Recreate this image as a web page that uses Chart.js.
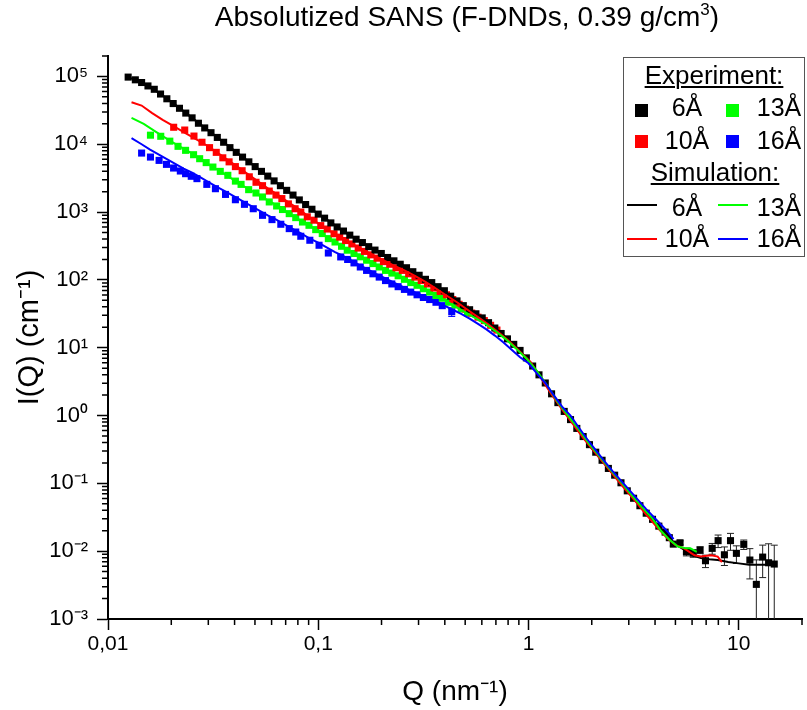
<!DOCTYPE html>
<html>
<head>
<meta charset="utf-8">
<script src="https://cdn.jsdelivr.net/npm/chart.js@4.4.0/dist/chart.umd.min.js"></script>
<style>
  html, body { margin: 0; padding: 0; background: #fff; }
  #wrap { position: relative; width: 807px; height: 710px; font-family: "Liberation Sans", Arial, sans-serif; color: #000; }
  #title { position: absolute; left: 167px; top: 3px; width: 600px; text-align: center; font-size: 28px; line-height: 28px; white-space: nowrap; }
  #title sup { font-size: 17px; line-height: 0; vertical-align: 11px; }
  #legendBox { position: absolute; left: 623px; top: 57px; width: 182px; height: 200px; box-sizing: border-box; border: 1px solid #555; }
  .lg { position: absolute; width: 120px; text-align: center; font-size: 25px; line-height: 25px; white-space: nowrap; }
  .hd { width: 180px; font-size: 26px; text-decoration: underline; text-decoration-thickness: 2px; text-underline-offset: 2px; }
  .sq { position: absolute; width: 13px; height: 13px; }
  .ln { position: absolute; width: 30px; height: 2px; }
</style>
</head>
<body>
<div id="wrap">
  <canvas id="canvas" width="807" height="710"></canvas>
  <div id="title">Absolutized SANS (F-DNDs, 0.39 g/cm<sup>3</sup>)</div>
  <div id="legendBox"></div>
  <div class="lg hd" style="left:624px; top:63px;">Experiment:</div>
  <div class="sq" style="left:635px; top:104px; background:#000;"></div>
  <div class="lg" style="left:627px; top:95px;">6Å</div>
  <div class="sq" style="left:726px; top:104px; background:#00ff00;"></div>
  <div class="lg" style="left:719px; top:95px;">13Å</div>
  <div class="sq" style="left:635px; top:135px; background:#ff0000;"></div>
  <div class="lg" style="left:627px; top:128px;">10Å</div>
  <div class="sq" style="left:726px; top:135px; background:#0000ff;"></div>
  <div class="lg" style="left:719px; top:128px;">16Å</div>
  <div class="lg hd" style="left:625px; top:160px;">Simulation:</div>
  <div class="ln" style="left:627px; top:204px; background:#000;"></div>
  <div class="lg" style="left:627px; top:195px;">6Å</div>
  <div class="ln" style="left:718px; top:204px; background:#00ff00;"></div>
  <div class="lg" style="left:719px; top:195px;">13Å</div>
  <div class="ln" style="left:627px; top:238px; background:#ff0000;"></div>
  <div class="lg" style="left:627px; top:226px;">10Å</div>
  <div class="ln" style="left:718px; top:238px; background:#0000ff;"></div>
  <div class="lg" style="left:719px; top:226px;">16Å</div>
</div>
<script>
// axis ticks
const xDecades = [0.01, 0.1, 1, 10];
const xTickLabels = ['0,01', '0,1', '1', '10'];
const yDecades = [1e-3, 1e-2, 1e-1, 1, 10, 100, 1e3, 1e4, 1e5];
const yTickLabels = ['10⁻³', '10⁻²', '10⁻¹', '10⁰', '10¹', '10²', '10³', '10⁴', '10⁵'];
const minorSteps = [2, 3, 4, 5, 6, 7, 8, 9];

// experiment, 6 A (black)
const qExp6 = [0.01247, 0.01349, 0.01445, 0.01549, 0.01660, 0.01778, 0.01905, 0.02042, 0.02188, 0.02344,
  0.02512, 0.02692, 0.02884, 0.03090, 0.03311, 0.03548, 0.03802, 0.04074, 0.04365, 0.04677,
  0.05012, 0.05370, 0.05754, 0.06166, 0.06607, 0.07079, 0.07586, 0.08128, 0.08710, 0.09333,
  0.1000, 0.1072, 0.1148, 0.1230, 0.1318, 0.1413, 0.1514, 0.1622, 0.1738, 0.1862,
  0.1995, 0.2138, 0.2291, 0.2455, 0.2630, 0.2818, 0.3020, 0.3236, 0.3467, 0.3715,
  0.3981, 0.4266, 0.4571, 0.4898, 0.5248, 0.5623, 0.6026, 0.6457, 0.6918, 0.7413,
  0.7943, 0.8511, 0.9120, 0.9772, 1.047, 1.122, 1.202, 1.288, 1.380, 1.479,
  1.585, 1.698, 1.820, 1.950, 2.089, 2.239, 2.399, 2.570, 2.754, 2.951,
  3.162, 3.388, 3.631, 3.890, 4.169, 4.467, 4.677, 4.887, 5.26, 5.64,
  6.08, 6.55, 6.95, 7.48, 7.98, 8.55, 9.14, 9.75, 10.57, 11.30,
  12.13, 13.00, 13.87, 14.76];
const iExp6 = [97700, 89100, 81300, 72400, 64600, 55000, 46800, 39800, 33900, 28800,
  24500, 20400, 17400, 14800, 12600, 10700, 8910, 7590, 6460, 5500,
  4680, 3980, 3390, 2880, 2450, 2090, 1780, 1510, 1290, 1100,
  933, 813, 692, 603, 525, 457, 398, 355, 309, 275,
  245, 214, 191, 170, 151, 132, 117, 102, 91.2, 79.4,
  69.2, 57.5, 49.0, 41.7, 36.3, 31.6, 27.5, 23.4, 19.5, 16.2,
  13.5, 11.2, 9.12, 7.08, 5.37, 3.98, 3.02, 2.09, 1.55, 1.15,
  0.871, 0.646, 0.490, 0.372, 0.288, 0.219, 0.166, 0.132, 0.102, 0.0776,
  0.0603, 0.0468, 0.0363, 0.0295, 0.0234, 0.0191, 0.0158, 0.0127, 0.0133, 0.00982,
  0.00933, 0.0104, 0.00723, 0.0110, 0.0143, 0.00885, 0.0143, 0.00929, 0.0126, 0.0074,
  0.00324, 0.00818, 0.00675, 0.00646];
// error bars of the last 17 black points
const errExp6 = [0.0008, 0.0009, 0.0013, 0.0012, 0.0012, 0.0015, 0.002, 0.003, 0.0027, 0.004,
  0.0027, 0.002, 0.0035, 0.0042, 0.0041, 0.0061, 0.0058];

// experiment, 10 A (red)
const qExp10 = [0.02053, 0.02317, 0.02564, 0.02799, 0.03041, 0.03273, 0.03516, 0.03767, 0.04036, 0.04345,
  0.04699, 0.05058, 0.05433, 0.05848, 0.06295, 0.06714, 0.07211, 0.07762, 0.08260, 0.08872,
  0.09550, 0.1028, 0.1104, 0.1189, 0.1265, 0.1349, 0.1445, 0.1549, 0.1660, 0.1778,
  0.1905, 0.2042, 0.2188, 0.2344, 0.2512, 0.2692, 0.2884, 0.3090, 0.3311, 0.3548,
  0.3802, 0.4074, 0.4365, 0.4677, 0.5012, 0.5370, 0.5754, 0.6166, 0.6607, 0.7079];
const iExp10 = [17800, 16200, 13200, 10700, 8910, 7590, 6310, 5500, 4680, 4070,
  3310, 2750, 2450, 2040, 1780, 1580, 1320, 1120, 1000, 851,
  759, 631, 562, 479, 427, 380, 339, 295, 263, 234,
  209, 186, 170, 151, 138, 123, 110, 97.7, 87.1, 75.9,
  67.6, 60.3, 51.3, 43.7, 37.2, 32.4, 28.2, 25.1, 21.4, 18.2];

// experiment, 13 A (green)
const qExp13 = [0.01592, 0.01782, 0.01968, 0.02153, 0.02339, 0.02553, 0.02729, 0.02931, 0.03155, 0.03420,
  0.03715, 0.04036, 0.04295, 0.04667, 0.05058, 0.05433, 0.05848, 0.06339, 0.06761, 0.07278,
  0.07816, 0.08414, 0.09036, 0.09727, 0.1045, 0.1117, 0.1202, 0.1291, 0.1374, 0.1479,
  0.1585, 0.1698, 0.1820, 0.1950, 0.2089, 0.2239, 0.2399, 0.2570, 0.2754, 0.2951,
  0.3162, 0.3388, 0.3631, 0.3890, 0.4169, 0.4467, 0.4786, 0.5129];
const iExp13 = [13600, 13100, 11100, 9310, 8130, 7010, 6120, 5360, 4610, 3980,
  3480, 2860, 2560, 2140, 1910, 1670, 1410, 1230, 1090, 948,
  828, 713, 638, 551, 482, 406, 362, 313, 274, 245,
  219, 195, 174, 155, 138, 126, 115, 102, 91.2, 83.2,
  74.1, 66.1, 58.9, 53.7, 46.8, 42.7, 37.2, 32.4];

// experiment, 16 A (blue)
const qExp16 = [0.01445, 0.01592, 0.01750, 0.01897, 0.02051, 0.02208, 0.02339, 0.02489, 0.02649, 0.02951,
  0.03243, 0.03622, 0.04036, 0.04457, 0.04909, 0.05433, 0.06026, 0.06637, 0.07278, 0.07816,
  0.08260, 0.09120, 0.1009, 0.1117, 0.1279, 0.1380, 0.1479, 0.1585, 0.1698, 0.1820,
  0.1950, 0.2089, 0.2239, 0.2399, 0.2570, 0.2754, 0.2951, 0.3162, 0.3388, 0.3631,
  0.3890, 0.4315];
const iExp16 = [7410, 6470, 5780, 5050, 4460, 4030, 3680, 3370, 3110, 2560,
  2210, 1820, 1520, 1300, 1120, 895, 774, 661, 570, 508,
  440, 384, 324, 249, 218, 200, 178, 155, 138, 123,
  110, 97.7, 87.1, 79.4, 72.4, 66.1, 60.3, 55.0, 51.3, 46.8,
  41.7, 33.9];
const errExp16 = [5];

// simulation curves
const qSim6 = [0.01247, 0.01413, 0.01585, 0.01778, 0.01995, 0.02239, 0.02512, 0.02818, 0.03162, 0.03548,
  0.03981, 0.04467, 0.05012, 0.05623, 0.06310, 0.07079, 0.07943, 0.08913, 0.1000, 0.1122,
  0.1259, 0.1413, 0.1585, 0.1778, 0.1995, 0.2239, 0.2512, 0.2818, 0.3162, 0.3548,
  0.3981, 0.4467, 0.5012, 0.5623, 0.6310, 0.7079, 0.7943, 0.8913, 1.000, 1.122,
  1.259, 1.413, 1.585, 1.778, 1.995, 2.239, 2.512, 2.818, 3.162, 3.548,
  3.981, 4.467, 5.012, 5.495, 6.026, 6.607, 7.244, 7.943, 8.913, 10.0,
  11.22, 12.59, 14.76];
const iSim6 = [97700, 83200, 69200, 55000, 42700, 32400, 24500, 18600, 14100, 10700,
  8130, 6170, 4680, 3550, 2750, 2090, 1580, 1230, 933, 741,
  575, 457, 372, 302, 245, 200, 162, 132, 107, 85.1,
  67.6, 52.5, 40.7, 31.6, 24.5, 18.6, 13.5, 9.77, 6.46, 4.07,
  2.40, 1.41, 0.871, 0.537, 0.331, 0.214, 0.141, 0.0933, 0.0603, 0.0389,
  0.0269, 0.0186, 0.0126, 0.0105, 0.00871, 0.00794, 0.00759, 0.00741, 0.00692, 0.00661,
  0.00631, 0.00631, 0.00631];

const qSim10 = [0.01294, 0.01445, 0.01622, 0.01820, 0.02042, 0.02291, 0.02570, 0.02884, 0.03236, 0.03631,
  0.04074, 0.04571, 0.05129, 0.05754, 0.06457, 0.07244, 0.08128, 0.09120, 0.1023, 0.1148,
  0.1288, 0.1445, 0.1622, 0.1820, 0.2042, 0.2291, 0.2570, 0.2884, 0.3236, 0.3631,
  0.4074, 0.4571, 0.5129, 0.5754, 0.6457, 0.7244, 0.8128, 0.9120, 1.023, 1.148,
  1.288, 1.445, 1.622, 1.820, 2.042, 2.291, 2.570, 2.884, 3.236, 3.631,
  4.074, 4.571, 5.012, 5.495, 6.166, 6.607, 7.413, 7.943, 8.318];
const iSim10 = [41700, 37200, 28800, 22900, 18600, 15100, 12300, 10000, 7940, 6170,
  4790, 3720, 2880, 2240, 1780, 1380, 1100, 832, 646, 513,
  417, 339, 282, 234, 195, 162, 138, 115, 93.3, 74.1,
  58.9, 46.8, 36.3, 28.2, 21.9, 16.6, 12.3, 8.71, 6.17, 3.55,
  2.04, 1.23, 0.759, 0.468, 0.302, 0.195, 0.126, 0.0813, 0.0537, 0.0347,
  0.0229, 0.0155, 0.0123, 0.0110, 0.00871, 0.00832, 0.00871, 0.00832, 0.00692];

const qSim13 = [0.01294, 0.01479, 0.01698, 0.01950, 0.02188, 0.02455, 0.02754, 0.03090, 0.03467, 0.03890,
  0.04365, 0.04898, 0.05495, 0.06166, 0.06918, 0.07762, 0.08710, 0.09772, 0.1096, 0.1230,
  0.1380, 0.1549, 0.1738, 0.1950, 0.2188, 0.2455, 0.2754, 0.3090, 0.3467, 0.3890,
  0.4365, 0.4898, 0.5495, 0.6166, 0.6918, 0.7762, 0.8710, 0.9772, 1.096, 1.230,
  1.380, 1.549, 1.738, 1.950, 2.188, 2.455, 2.754, 3.090, 3.467, 3.890,
  4.266, 4.677, 5.129, 5.623, 5.888, 6.310];
const iSim13 = [24500, 20000, 15100, 11500, 9330, 7590, 6030, 4790, 3890, 3090,
  2450, 2000, 1620, 1320, 1050, 832, 676, 550, 427, 347,
  275, 229, 191, 158, 132, 112, 93.3, 77.6, 63.1, 52.5,
  42.7, 34.7, 28.2, 22.9, 17.8, 13.5, 9.77, 6.92, 4.57, 2.75,
  1.58, 0.977, 0.617, 0.380, 0.245, 0.158, 0.105, 0.0676, 0.0447, 0.0302,
  0.0200, 0.0148, 0.0117, 0.0110, 0.0110, 0.00977];

const qSim16 = [0.01294, 0.01445, 0.01585, 0.01738, 0.01905, 0.02089, 0.02291, 0.02512, 0.02754, 0.03020,
  0.03311, 0.03631, 0.03981, 0.04365, 0.04786, 0.05248, 0.05754, 0.06310, 0.06918, 0.07586,
  0.08318, 0.09120, 0.1000, 0.1096, 0.1202, 0.1318, 0.1445, 0.1585, 0.1738, 0.1905,
  0.2089, 0.2291, 0.2512, 0.2754, 0.3020, 0.3311, 0.3631, 0.3981, 0.4365, 0.4786,
  0.5248, 0.5754, 0.6310, 0.6918, 0.7586, 0.8318, 0.9120, 1.000, 1.096, 1.202,
  1.318, 1.445, 1.585, 1.738, 1.905, 2.089, 2.291, 2.512, 2.754, 3.020,
  3.311, 3.631, 3.981, 4.365, 4.677, 4.898];
const iSim16 = [12300, 10000, 8320, 7080, 6030, 5130, 4370, 3800, 3240, 2750,
  2340, 2000, 1700, 1450, 1230, 1050, 891, 776, 661, 562,
  479, 407, 355, 302, 257, 224, 191, 162, 141, 120,
  105, 91.2, 79.4, 69.2, 61.7, 53.7, 47.9, 41.7, 36.3, 31.6,
  26.9, 22.4, 18.6, 15.1, 12.0, 9.33, 7.24, 5.89, 4.17, 3.02,
  2.00, 1.35, 1.00, 0.661, 0.447, 0.309, 0.214, 0.151, 0.110, 0.0794,
  0.0575, 0.0417, 0.0309, 0.0229, 0.0182, 0.0151];

const FONT = '"Liberation Sans", Arial, sans-serif';
const pts = (q, v) => q.map((x, k) => ({ x: x, y: v[k] }));
const isMajor = (v) => Math.abs(Math.log10(v) - Math.round(Math.log10(v))) < 1e-9;

function buildTicks(decades, max) {
  const out = [];
  decades.forEach(d => {
    out.push({ value: d });
    minorSteps.forEach(m => { if (d * m <= max * 1.0001) out.push({ value: d * m }); });
  });
  return out;
}
function labelFor(decades, labels, v) {
  const k = decades.findIndex(d => Math.abs(d - v) / d < 1e-6);
  return k >= 0 ? labels[k] : '';
}

// short minor tick marks, drawn through the scales
const minorTicks = {
  id: 'minorTicks',
  afterDraw(chart) {
    const { ctx, chartArea: a, scales: { x, y } } = chart;
    ctx.save();
    ctx.strokeStyle = '#000';
    ctx.lineWidth = 1.5;
    ctx.beginPath();
    x.ticks.forEach(t => {
      if (isMajor(t.value)) return;
      const px = x.getPixelForValue(t.value);
      ctx.moveTo(px, a.bottom);
      ctx.lineTo(px, a.bottom + 6);
    });
    y.ticks.forEach(t => {
      if (isMajor(t.value)) return;
      const py = y.getPixelForValue(t.value);
      ctx.moveTo(a.left, py);
      ctx.lineTo(a.left - 6, py);
    });
    ctx.stroke();
    ctx.restore();
  }
};

// vertical error bars on the tail of a series
const errSets = [
  { q: qExp6, v: iExp6, e: errExp6, color: '#222' },
  { q: qExp16, v: iExp16, e: errExp16, color: '#0000ff' }
];
const errorBars = {
  id: 'errorBars',
  beforeDatasetsDraw(chart) {
    const { ctx, chartArea: a, scales: { x, y } } = chart;
    ctx.save();
    ctx.beginPath();
    ctx.rect(a.left, a.top, a.right - a.left, a.bottom - a.top);
    ctx.clip();
    ctx.lineWidth = 1;
    errSets.forEach(s => {
      ctx.strokeStyle = s.color;
      s.e.forEach((e, k) => {
        const i = s.q.length - s.e.length + k;
        const px = x.getPixelForValue(s.q[i]);
        const top = y.getPixelForValue(s.v[i] + e);
        const low = s.v[i] - e;
        const bot = low > 0 ? y.getPixelForValue(low) : a.bottom + 5;
        ctx.beginPath();
        ctx.moveTo(px, top);
        ctx.lineTo(px, bot);
        ctx.moveTo(px - 3.5, top);
        ctx.lineTo(px + 3.5, top);
        if (low > 0) {
          ctx.moveTo(px - 3.5, bot);
          ctx.lineTo(px + 3.5, bot);
        }
        ctx.stroke();
      });
    });
    ctx.restore();
  }
};

const expStyle = (color) => ({
  showLine: false, pointStyle: 'rect', pointRadius: 5, pointBorderWidth: 0,
  backgroundColor: color, borderColor: color, order: 10
});
const simStyle = (color, order) => ({
  showLine: true, pointRadius: 0, borderWidth: 2, borderColor: color,
  backgroundColor: color, fill: false, tension: 0, order: order
});

const ctx = document.getElementById('canvas').getContext('2d');
const myChart = new Chart(ctx, {
  type: 'scatter',
  data: {
    datasets: [
      { label: 'Exp 6Å', data: pts(qExp6, iExp6), ...expStyle('#000000') },
      { label: 'Exp 10Å', data: pts(qExp10, iExp10), ...expStyle('#ff0000') },
      { label: 'Exp 13Å', data: pts(qExp13, iExp13), ...expStyle('#00ff00') },
      { label: 'Exp 16Å', data: pts(qExp16, iExp16), ...expStyle('#0000ff') },
      { label: 'Sim 6Å', data: pts(qSim6, iSim6), ...simStyle('#000000', 4) },
      { label: 'Sim 10Å', data: pts(qSim10, iSim10), ...simStyle('#ff0000', 3) },
      { label: 'Sim 13Å', data: pts(qSim13, iSim13), ...simStyle('#00ff00', 2) },
      { label: 'Sim 16Å', data: pts(qSim16, iSim16), ...simStyle('#0000ff', 1) }
    ]
  },
  options: {
    responsive: false,
    animation: false,
    layout: { padding: { left: 0, right: 1, top: 56, bottom: 0 } },
    plugins: {
      legend: { display: false },
      tooltip: { enabled: false },
      title: { display: false }
    },
    scales: {
      x: {
        type: 'logarithmic',
        min: 0.01,
        max: 20,
        afterBuildTicks: (s) => { s.ticks = buildTicks(xDecades, 20); },
        afterFit: (s) => { s.height = 91; },
        border: { display: true, color: '#000', width: 2 },
        grid: {
          display: true, drawOnChartArea: false, drawTicks: true, tickLength: 11, tickWidth: 1.5,
          tickColor: (c) => (c.tick && isMajor(c.tick.value)) ? '#000' : 'rgba(0,0,0,0)'
        },
        ticks: {
          autoSkip: false, maxRotation: 0, minRotation: 0, padding: 2, color: '#000',
          font: { family: FONT, size: 21 },
          callback: (v) => labelFor(xDecades, xTickLabels, v)
        },
        title: {
          display: true, text: 'Q (nm⁻¹)', color: '#000',
          font: { family: FONT, size: 28 }, padding: { top: 0, bottom: 1 }
        }
      },
      y: {
        type: 'logarithmic',
        min: 1e-3,
        max: 2e5,
        afterBuildTicks: (s) => { s.ticks = buildTicks(yDecades, 2e5); },
        afterFit: (s) => { s.width = 108; },
        border: { display: true, color: '#000', width: 2 },
        grid: {
          display: true, drawOnChartArea: false, drawTicks: true, tickLength: 11, tickWidth: 1.5,
          tickColor: (c) => (c.tick && isMajor(c.tick.value)) ? '#000' : 'rgba(0,0,0,0)'
        },
        ticks: {
          autoSkip: false, padding: 9, color: '#000',
          font: { family: FONT, size: 22 },
          callback: (v) => labelFor(yDecades, yTickLabels, v)
        },
        title: {
          display: true, text: 'I(Q) (cm⁻¹)', color: '#000',
          font: { family: FONT, size: 29 }, padding: { top: 13, bottom: 0 }
        }
      }
    }
  },
  plugins: [minorTicks, errorBars]
});
</script>
</body>
</html>
